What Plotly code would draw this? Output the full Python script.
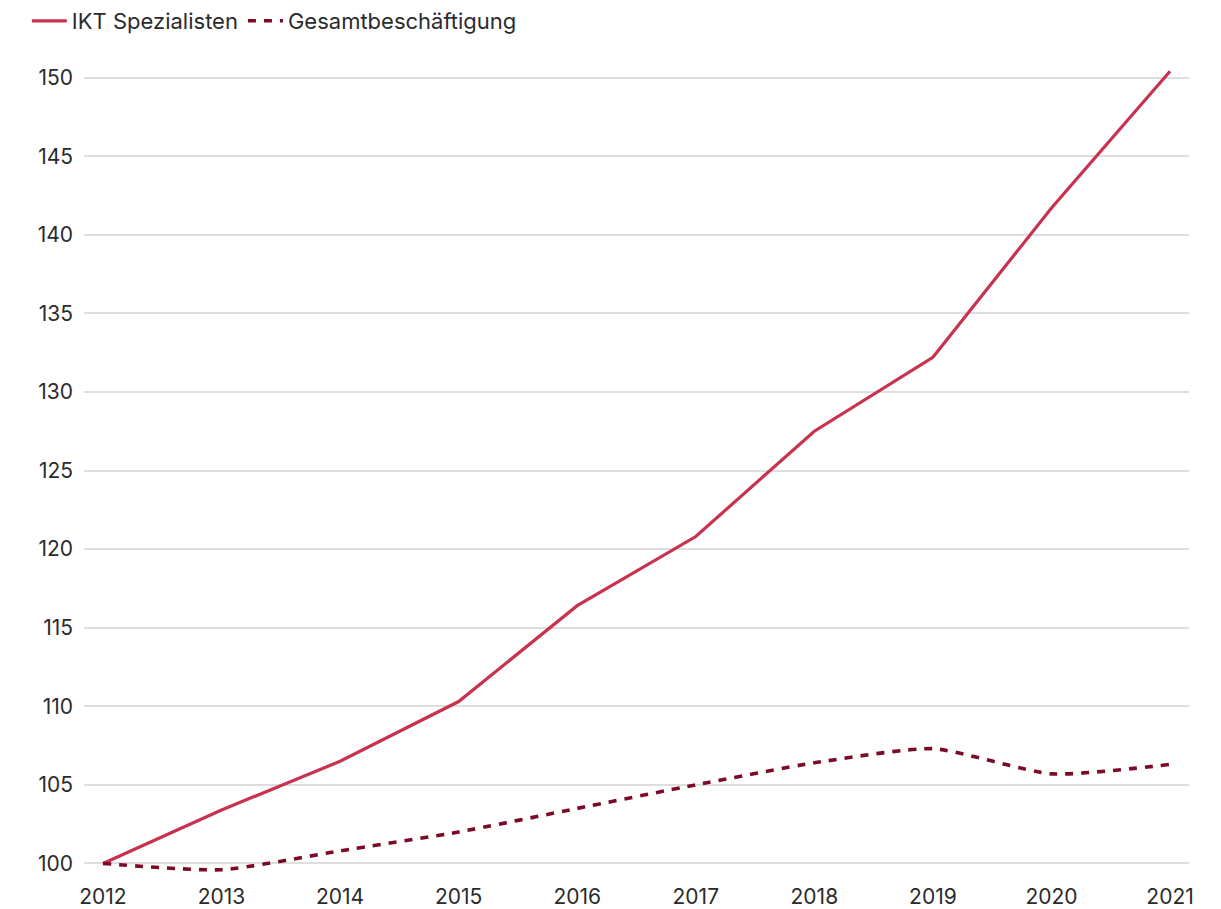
import plotly.graph_objects as go

# Index 2012 = 100
years = [2012, 2013, 2014, 2015, 2016, 2017, 2018, 2019, 2020, 2021]
ikt_spezialisten = [100, 103.4, 106.5, 110.3, 116.4, 120.8, 127.5, 132.2, 141.7, 150.4]
gesamtbeschaeftigung = [100, 99.6, 100.8, 102.0, 103.5, 105.0, 106.4, 107.3, 105.7, 106.3]
y_ticks = [100, 105, 110, 115, 120, 125, 130, 135, 140, 145, 150]

font_family = "Inter, 'Liberation Sans', Arial, sans-serif"
text_color = "#2b2b2b"

fig = go.Figure()
fig.add_trace(go.Scatter(
    x=years, y=ikt_spezialisten, mode="lines", name="IKT Spezialisten",
    line=dict(color="#C8324F", width=3.2),
))
fig.add_trace(go.Scatter(
    x=years, y=gesamtbeschaeftigung, mode="lines", name="Gesamtbeschäftigung",
    line=dict(color="#7C0A27", width=3.6, dash="8px,8px", shape="spline", smoothing=0.6),
))

fig.update_layout(
    width=1221, height=909,
    margin=dict(l=84, r=32, t=65, b=33, autoexpand=False),
    paper_bgcolor="white", plot_bgcolor="white",
    font=dict(family=font_family, size=21, color=text_color),
    showlegend=True,
    legend=dict(
        orientation="h", x=0.022, y=1.0, xref="container", yref="container",
        xanchor="left", yanchor="top",
        font=dict(size=22, color=text_color),
        itemwidth=35, tracegroupgap=0,
        bgcolor="rgba(0,0,0,0)",
    ),
    xaxis=dict(
        range=[2011.84, 2021.16],
        tickvals=years, ticktext=[str(y) for y in years],
        showgrid=False, zeroline=False, showline=False,
        ticks="", ticklabelstandoff=6, automargin=False,
        tickfont=dict(size=21, color=text_color),
        fixedrange=True,
    ),
    yaxis=dict(
        range=[99.2, 150.8],
        tickvals=y_ticks,
        showgrid=True, gridcolor="#dedede", gridwidth=1.5,
        zeroline=False, showline=False,
        ticks="", ticklabelstandoff=10, automargin=False,
        tickfont=dict(size=21, color=text_color),
        fixedrange=True,
    ),
)

fig.write_html("out.html")
